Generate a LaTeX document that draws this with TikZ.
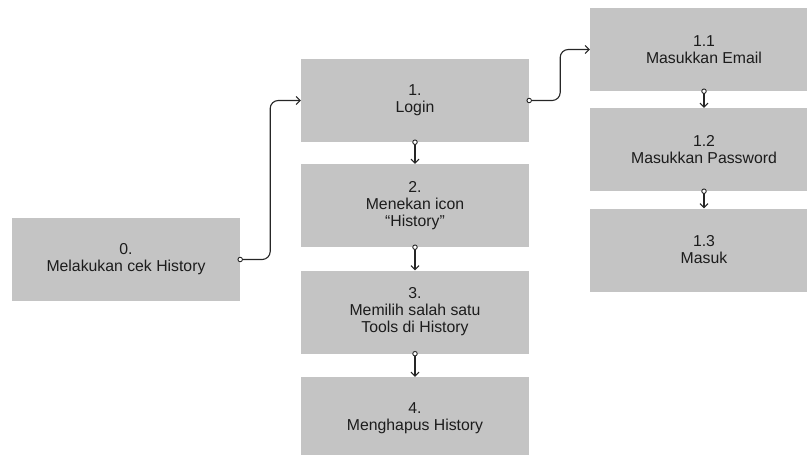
\documentclass[tikz,border=0pt]{standalone}
\usepackage{fontspec}
\setmainfont{Liberation Sans}
\usetikzlibrary{arrows.meta}
\definecolor{boxgray}{HTML}{C4C4C4}
\definecolor{txt}{HTML}{1C1C1C}
\tikzset{
  box/.style={fill=boxgray, draw=none, minimum width=228pt, minimum height=83pt,
    align=center, text=txt, font=\fontsize{15.8}{17}\selectfont, inner sep=0pt},
  conn/.style={line width=1.1pt, draw=black!85, rounded corners=8pt,
    -{Straight Barb[length=4pt, width=8pt, line width=1pt]}},
  dot/.style={circle, draw=black!85, fill=white, line width=0.9pt, minimum size=4.5pt, inner sep=0pt}
}
\begin{document}
\begin{tikzpicture}[x=1pt, y=-1pt]
\useasboundingbox (0,0) rectangle (807,455);
\begin{scope}
\clip (0,0) rectangle (807,455);
\node[box, minimum height=83pt] (n0) at (126,259.5) {0.\\Melakukan cek History};
\node[box] (n1) at (415,100.5) {1.\\Login};
\node[box] (n2) at (415,205.5) {2.\\Menekan icon\\“History”};
\node[box] (n3) at (415,312) {3.\\Memilih salah satu\\Tools di History};
\node[box] (n4) at (415,418.5) {4.\\Menghapus History};
\node[box] (n11) at (704,49.5) {1.1\\Masukkan Email};
\node[box] (n12) at (704,149.5) {1.2\\Masukkan Password};
\node[box] (n13) at (704,250) {1.3\\Masuk};
\end{scope}
% elbow connectors
\draw[conn] (n0.east) -- ++(30,0) |- (n1.west);
\draw[conn] (n1.east) -- ++(31,0) |- (n11.west);
% vertical connectors
\draw[conn] (n1.south) -- (n2.north);
\draw[conn] (n2.south) -- (n3.north);
\draw[conn] (n3.south) -- (n4.north);
\draw[conn] (n11.south) -- (n12.north);
\draw[conn] (n12.south) -- (n13.north);
% start dots
\node[dot] (d0) at (n0.east) {};
\node[dot] (d1) at (n1.east) {};
\node[dot] (d2) at (n1.south) {};
\node[dot] (d3) at (n2.south) {};
\node[dot] (d4) at (n3.south) {};
\node[dot] (d5) at (n11.south) {};
\node[dot] (d6) at (n12.south) {};
\end{tikzpicture}
\end{document}
